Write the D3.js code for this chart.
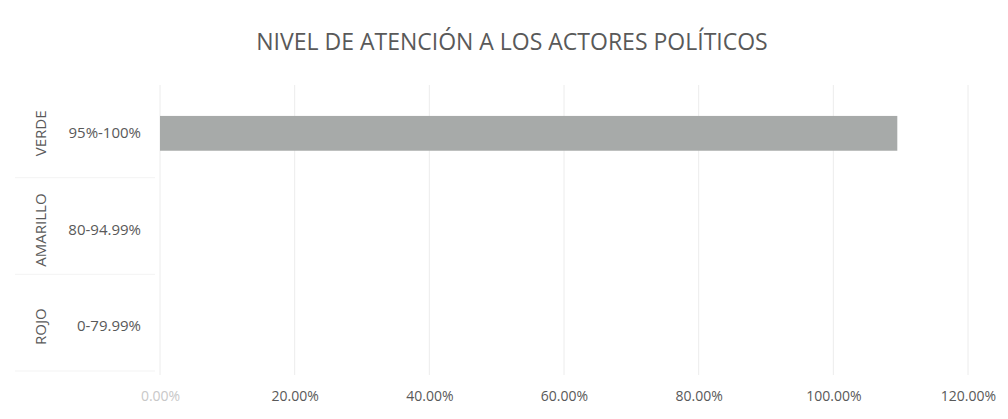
<!DOCTYPE html>
<html>
<head>
<meta charset="utf-8">
<script src="https://cdn.jsdelivr.net/npm/d3@7"></script>
<style>
  body { margin: 0; background: #fff; }
  text { font-family: "Open Sans", sans-serif; fill: #595959; }
</style>
</head>
<body>
<div id="chart"></div>
<script>
// Data
const groups = ['VERDE', 'AMARILLO', 'ROJO']
const ranges = ['95%-100%', '80-94.99%', '0-79.99%']
const values = [1.095, 0, 0]
const xTicks = [0, 0.2, 0.4, 0.6, 0.8, 1.0, 1.2]

const w = 1008
const h = 419
const margin = { top: 85, right: 40, bottom: 44, left: 160 }

const svg = d3.select('#chart').append('svg')
  .attr('width', w)
  .attr('height', h)

// Title
svg.append('text')
  .attr('x', 512)
  .attr('y', 50)
  .attr('text-anchor', 'middle')
  .style('font-size', '23px')
  .text('NIVEL DE ATENCIÓN A LOS ACTORES POLÍTICOS')

// Scales
const xScale = d3.scaleLinear()
  .domain([0, 1.2])
  .range([margin.left, w - margin.right])

const yScale = d3.scaleBand()
  .domain(ranges)
  .range([margin.top, h - margin.bottom])
  .paddingInner(0.64)
  .paddingOuter(0.32)

const bandStep = yScale.step()

// Gridlines
svg.append('g')
  .selectAll('line')
  .data(xTicks)
  .enter()
  .append('line')
  .attr('x1', d => xScale(d))
  .attr('x2', d => xScale(d))
  .attr('y1', margin.top)
  .attr('y2', h - margin.bottom)
  .attr('stroke', '#ececec')
  .attr('stroke-width', 1)

// Bars
svg.append('g')
  .selectAll('rect')
  .data(values)
  .enter()
  .append('rect')
  .attr('x', xScale(0))
  .attr('y', (_, i) => yScale(ranges[i]))
  .attr('width', d => xScale(d) - xScale(0))
  .attr('height', yScale.bandwidth())
  .attr('fill', '#a7aaa9')

// X axis labels
const xAxis = d3.axisBottom(xScale)
  .tickValues(xTicks)
  .tickFormat(d => (d * 100).toFixed(2) + '%')
  .tickSize(0)
  .tickPadding(16)

const gx = svg.append('g')
  .attr('transform', `translate(0, ${h - margin.bottom})`)
  .call(xAxis)
gx.select('.domain').remove()
gx.selectAll('text')
  .style('font-size', '14px')
  .style('fill', (d, i) => i === 0 ? '#c8c8c8' : '#595959')

// Category labels (inner level)
const yAxis = d3.axisLeft(yScale)
  .tickSize(0)
  .tickPadding(19)

const gy = svg.append('g')
  .attr('transform', `translate(${margin.left}, 0)`)
  .call(yAxis)
gy.select('.domain').remove()
gy.selectAll('text')
  .style('font-size', '15px')

// Category labels (outer level, rotated)
svg.append('g')
  .selectAll('text')
  .data(groups)
  .enter()
  .append('text')
  .attr('transform', (_, i) => `translate(46, ${yScale(ranges[i]) + yScale.bandwidth() / 2}) rotate(-90)`)
  .attr('text-anchor', 'middle')
  .style('font-size', '15px')
  .text(d => d)

// Faint separators between groups
svg.append('g')
  .selectAll('line')
  .data(d3.range(1, groups.length + 1))
  .enter()
  .append('line')
  .attr('x1', 15)
  .attr('x2', margin.left - 5)
  .attr('y1', i => margin.top + i * bandStep - 4)
  .attr('y2', i => margin.top + i * bandStep - 4)
  .attr('stroke', '#f3f3f3')
</script>
</body>
</html>
